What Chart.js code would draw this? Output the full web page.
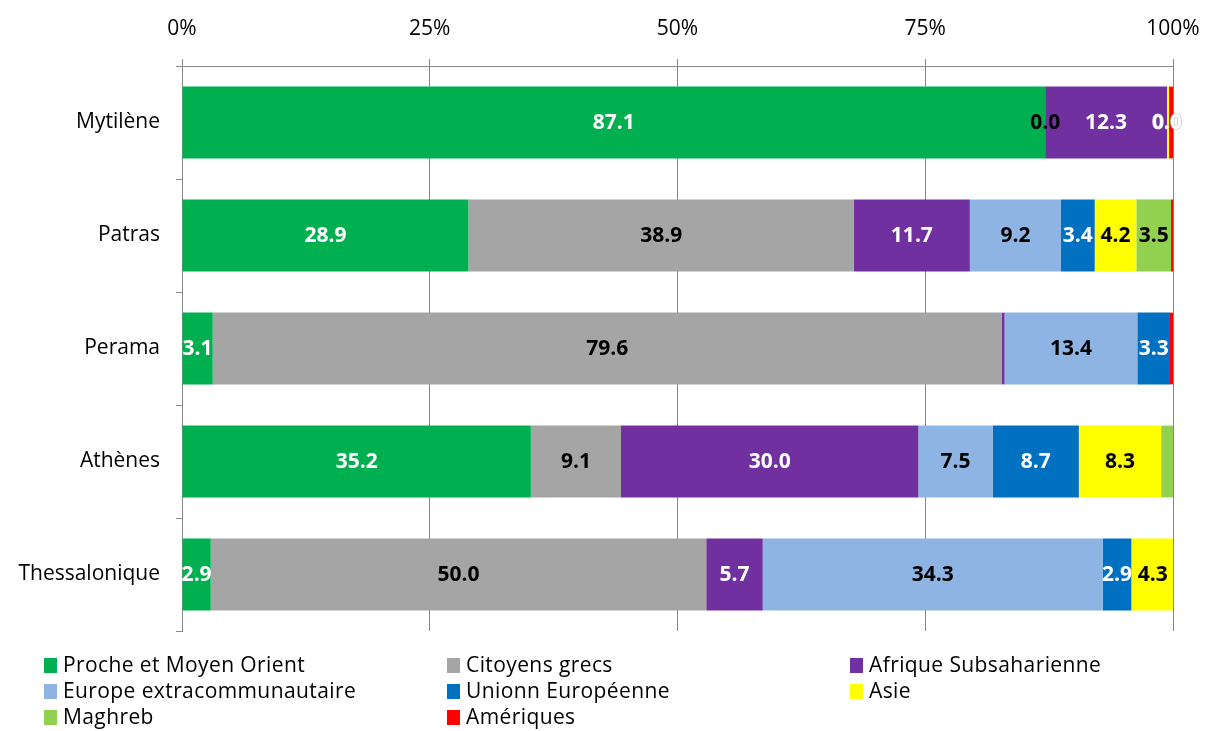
<!DOCTYPE html>
<html>
<head>
<meta charset="utf-8">
<script src="https://cdn.jsdelivr.net/npm/chart.js@4"></script>
<style>
  html, body { margin: 0; padding: 0; background: #fff; }
  #wrap { position: relative; width: 1207px; height: 731px; }
  #legend {
    position: absolute; left: 44px; top: 651px;
    display: grid; grid-template-columns: 403px 403px 340px;
    font-family: "Open Sans", sans-serif; font-size: 21px; letter-spacing: 0.4px; color: #000;
  }
  #legend div { height: 26px; line-height: 26px; white-space: nowrap; }
  #legend span { display: inline-block; width: 13px; height: 15px; margin-right: 6px; vertical-align: -1px; }
</style>
</head>
<body>
<div id="wrap">
  <canvas id="chart" width="1207" height="731"></canvas>
  <div id="legend"></div>
</div>
<script>
const cities = ['Mytilène', 'Patras', 'Perama', 'Athènes', 'Thessalonique'];
const xTicks = ['0%', '25%', '50%', '75%', '100%'];

// null = no value, 0 = shown as 0.0
const procheOrient = [87.1, 28.9, 3.1, 35.2, 2.9];
const citoyensGrecs = [0, 38.9, 79.6, 9.1, 50.0];
const afriqueSub = [12.3, 11.7, 0.3, 30.0, 5.7];
const europeExtra = [null, 9.2, 13.4, 7.5, 34.3];
const unionEuro = [0, 3.4, 3.3, 8.7, 2.9];
const asie = [0.2, 4.2, null, 8.3, 4.3];
const maghreb = [null, 3.5, null, 1.2, null];
const ameriques = [0.4, 0.2, 0.3, null, null];

const series = [
  { label: 'Proche et Moyen Orient', data: procheOrient, color: '#00B050', text: '#fff' },
  { label: 'Citoyens grecs', data: citoyensGrecs, color: '#A5A5A5', text: '#000' },
  { label: 'Afrique Subsaharienne', data: afriqueSub, color: '#7030A0', text: '#fff' },
  { label: 'Europe extracommunautaire', data: europeExtra, color: '#8DB4E2', text: '#000' },
  { label: 'Unionn Européenne', data: unionEuro, color: '#0070C0', text: '#fff' },
  { label: 'Asie', data: asie, color: '#FFFF00', text: '#000' },
  { label: 'Maghreb', data: maghreb, color: '#92D050', text: '#000' },
  { label: 'Amériques', data: ameriques, color: '#FF0000', text: '#fff' }
];

const barLabels = {
  id: 'barLabels',
  afterDatasetsDraw(chart) {
    const ctx = chart.ctx;
    ctx.save();
    ctx.font = 'bold 21px "Open Sans", sans-serif';
    ctx.textAlign = 'center';
    ctx.textBaseline = 'middle';
    chart.data.datasets.forEach((ds, i) => {
      const meta = chart.getDatasetMeta(i);
      meta.data.forEach((bar, j) => {
        const v = ds.data[j];
        if (v == null || (v > 0 && v < 1.5)) return;
        const x = (bar.x + bar.base) / 2, y = bar.y + 1;
        if (v === 0 && series[i].text === '#fff') {
          // white zero label spills past the bar end, outlined like the original
          ctx.strokeStyle = '#b0b0b0';
          ctx.lineWidth = 1;
          ctx.strokeText(v.toFixed(1), x, y);
        }
        ctx.fillStyle = series[i].text;
        ctx.fillText(v.toFixed(1), x, y);
      });
    });
    ctx.restore();
  }
};

new Chart(document.getElementById('chart'), {
  type: 'bar',
  data: {
    labels: cities,
    datasets: series.map(s => ({
      label: s.label,
      data: s.data,
      backgroundColor: s.color,
      borderWidth: 0,
      categoryPercentage: 1,
      barPercentage: 0.635
    }))
  },
  options: {
    indexAxis: 'y',
    responsive: false,
    animation: false,
    layout: { padding: { left: 0, right: 34, top: 0, bottom: 100 } },
    scales: {
      x: {
        position: 'top',
        stacked: true,
        min: 0,
        max: 100,
        afterFit: s => { s.height = 66; s.paddingLeft = 0; s.paddingRight = 0; },
        afterBuildTicks: s => { s.ticks = [0, 25, 50, 75, 100].map(v => ({ value: v })); },
        ticks: {
          callback: (v, i) => xTicks[i],
          color: '#000',
          font: { family: 'Open Sans', size: 21 },
          padding: 17,
          maxRotation: 0
        },
        grid: { color: '#878787', lineWidth: 1, tickLength: 7 },
        border: { color: '#878787' }
      },
      y: {
        stacked: true,
        afterFit: s => { s.width = 182; },
        ticks: {
          color: '#000',
          font: { family: 'Open Sans', size: 21 },
          padding: 16
        },
        grid: { offset: true, drawOnChartArea: false, color: '#878787', tickLength: 6 },
        border: { color: '#878787' }
      }
    },
    plugins: {
      legend: { display: false },
      tooltip: { enabled: false }
    }
  },
  plugins: [barLabels]
});

const legend = document.getElementById('legend');
series.forEach(s => {
  const d = document.createElement('div');
  d.innerHTML = '<span style="background:' + s.color + '"></span>' + s.label;
  legend.appendChild(d);
});
</script>
</body>
</html>
